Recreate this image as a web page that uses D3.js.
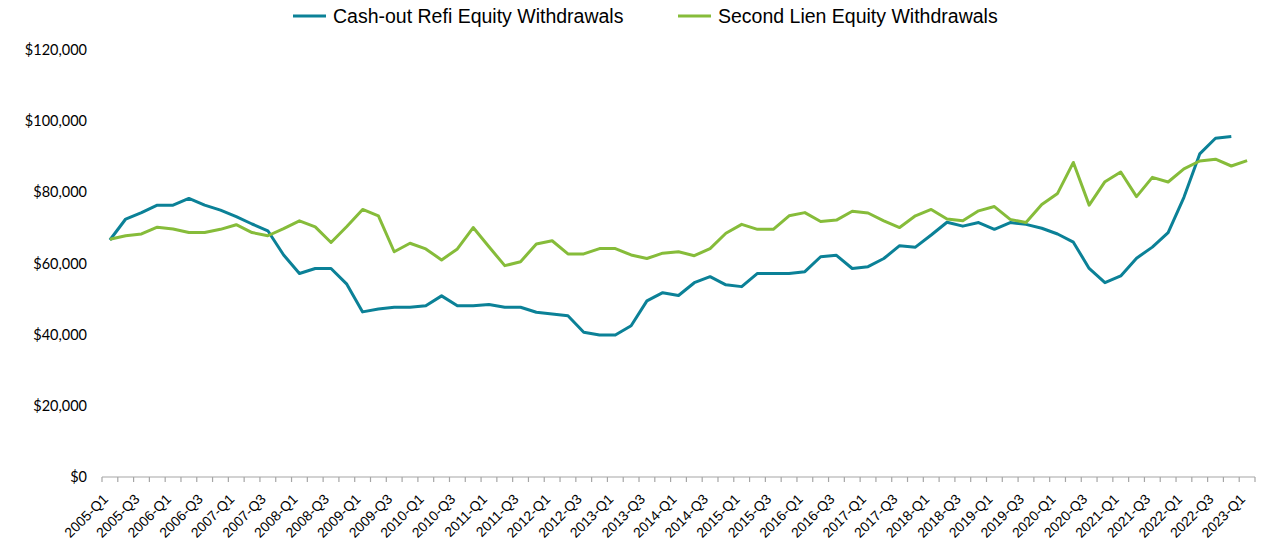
<!DOCTYPE html>
<html>
<head>
<meta charset="utf-8">
<script src="https://cdn.jsdelivr.net/npm/d3@7"></script>
<style>
  body { margin: 0; background: #fff; }
  svg { display: block; }
</style>
</head>
<body>
<div id="chart"></div>
<script>
// quarters on the x axis
var quarters = [
  "2005-Q1","2005-Q2","2005-Q3","2005-Q4","2006-Q1","2006-Q2","2006-Q3","2006-Q4",
  "2007-Q1","2007-Q2","2007-Q3","2007-Q4","2008-Q1","2008-Q2","2008-Q3","2008-Q4",
  "2009-Q1","2009-Q2","2009-Q3","2009-Q4","2010-Q1","2010-Q2","2010-Q3","2010-Q4",
  "2011-Q1","2011-Q2","2011-Q3","2011-Q4","2012-Q1","2012-Q2","2012-Q3","2012-Q4",
  "2013-Q1","2013-Q2","2013-Q3","2013-Q4","2014-Q1","2014-Q2","2014-Q3","2014-Q4",
  "2015-Q1","2015-Q2","2015-Q3","2015-Q4","2016-Q1","2016-Q2","2016-Q3","2016-Q4",
  "2017-Q1","2017-Q2","2017-Q3","2017-Q4","2018-Q1","2018-Q2","2018-Q3","2018-Q4",
  "2019-Q1","2019-Q2","2019-Q3","2019-Q4","2020-Q1","2020-Q2","2020-Q3","2020-Q4",
  "2021-Q1","2021-Q2","2021-Q3","2021-Q4","2022-Q1","2022-Q2","2022-Q3","2022-Q4",
  "2023-Q1"
];

// cash-out refi, ends at 2022-Q4
var cashOut = [
  66600, 72500, 74300, 76400, 76400, 78300, 76400, 75000,
  73200, 71100, 69200, 62400, 57200, 58600, 58600, 54200,
  46400, 47200, 47700, 47700, 48100, 50900, 48100, 48100,
  48500, 47700, 47700, 46300, 45800, 45300, 40700, 39900,
  39900, 42500, 49500, 51800, 51000, 54600, 56300, 54000,
  53500, 57200, 57200, 57200, 57700, 61900, 62300, 58600,
  59100, 61400, 65000, 64600, 68000, 71600, 70500, 71500,
  69600, 71500, 71000, 69900, 68300, 66000, 58600, 54600,
  56500, 61500, 64600, 68700, 78600, 90800, 95200, 95700
];

var secondLien = [
  66800, 67800, 68300, 70200, 69700, 68700, 68700, 69600,
  70900, 68700, 67800, 69800, 72000, 70300, 65900, 70400,
  75200, 73400, 63300, 65700, 64100, 61000, 64100, 70100,
  64700, 59400, 60500, 65500, 66400, 62700, 62700, 64200,
  64200, 62400, 61400, 62900, 63300, 62200, 64200, 68500,
  71000, 69600, 69600, 73400, 74300, 71800, 72200, 74700,
  74200, 72000, 70100, 73400, 75200, 72500, 72000, 74800,
  76000, 72400, 71500, 76600, 79700, 88400, 76400, 83000,
  85700, 78800, 84200, 82900, 86600, 88800, 89300, 87400,
  88900
];

var yTicks = [0, 20000, 40000, 60000, 80000, 100000, 120000];

var series = [
  { name: "Cash-out Refi Equity Withdrawals", values: cashOut, color: "#0b8197" },
  { name: "Second Lien Equity Withdrawals", values: secondLien, color: "#86bc3a" }
];

var width = 1266, height = 542;

var svg = d3.select("#chart").append("svg")
  .attr("width", width)
  .attr("height", height);

var x = d3.scaleBand()
  .domain(quarters)
  .range([102, 1255])
  .padding(0);

var y = d3.scaleLinear()
  .domain([0, 120000])
  .range([477, 50]);

// y labels, no axis line
var yAxis = svg.append("g")
  .attr("transform", "translate(102,0)")
  .call(d3.axisLeft(y)
    .tickValues(yTicks)
    .tickSize(0)
    .tickPadding(15)
    .tickFormat(function(d) { return "$" + d3.format(",")(d); }));
yAxis.select(".domain").remove();
yAxis.selectAll("text")
  .attr("font-family", "Lato, 'Liberation Sans', sans-serif")
  .attr("font-size", "14.5px")
  .attr("fill", "#000");

// x axis: line plus tick marks between categories (Excel style)
var xAxis = svg.append("g").attr("class", "x-axis");
xAxis.append("line")
  .attr("x1", x.range()[0]).attr("x2", x.range()[1])
  .attr("y1", y(0)).attr("y2", y(0))
  .attr("stroke", "#a6a6a6")
  .attr("stroke-width", 1.2);

var edges = quarters.map(function(q) { return x(q); }).concat([x.range()[1]]);
xAxis.selectAll("line.tick")
  .data(edges)
  .enter().append("line")
    .attr("class", "tick")
    .attr("x1", function(d) { return d; })
    .attr("x2", function(d) { return d; })
    .attr("y1", y(0))
    .attr("y2", y(0) + 5)
    .attr("stroke", "#a6a6a6")
    .attr("stroke-width", 1.2);

// every other quarter gets a label, rotated 45deg
xAxis.selectAll("text")
  .data(quarters.filter(function(q, i) { return i % 2 === 0; }))
  .enter().append("text")
    .attr("transform", function(d) {
      return "translate(" + (x(d) + x.bandwidth() / 2 - 1) + ",500) rotate(-45)";
    })
    .attr("text-anchor", "end")
    .attr("font-family", "'Liberation Sans', Arial, sans-serif")
    .attr("font-size", "14px")
    .attr("fill", "#000")
    .text(function(d) { return d; });

// lines
var line = d3.line()
  .x(function(d, i) { return x(quarters[i]) + x.bandwidth() / 2; })
  .y(function(d) { return y(d); });

svg.append("g")
    .attr("class", "lines")
  .selectAll("path")
  .data(series)
  .enter().append("path")
    .attr("d", function(d) { return line(d.values); })
    .attr("fill", "none")
    .attr("stroke", function(d) { return d.color; })
    .attr("stroke-width", 3)
    .attr("stroke-linejoin", "round");

// legend
var legendX = [293, 678];
var legend = svg.append("g")
    .attr("class", "legend")
  .selectAll("g")
  .data(series)
  .enter().append("g")
    .attr("transform", function(d, i) { return "translate(" + legendX[i] + ",0)"; });

legend.append("line")
  .attr("x1", 0).attr("x2", 33)
  .attr("y1", 16).attr("y2", 16)
  .attr("stroke", function(d) { return d.color; })
  .attr("stroke-width", 3);

legend.append("text")
  .attr("x", 40)
  .attr("y", 23)
  .attr("font-family", "'Liberation Sans', Arial, sans-serif")
  .attr("font-size", "19.5px")
  .attr("fill", "#000")
  .text(function(d) { return d.name; });
</script>
</body>
</html>
